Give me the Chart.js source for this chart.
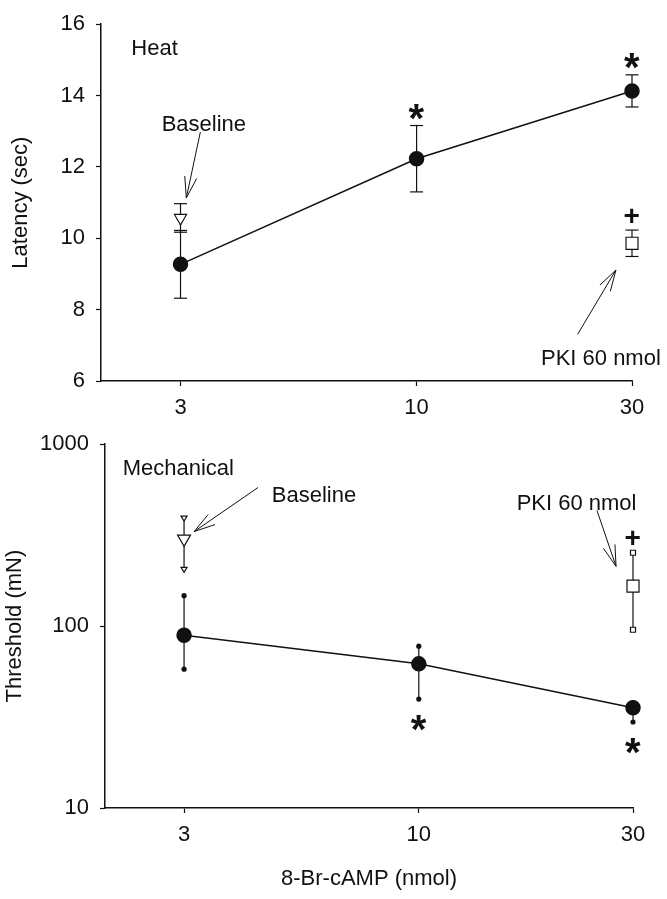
<!DOCTYPE html>
<html>
<head>
<meta charset="utf-8">
<script src="https://cdn.jsdelivr.net/npm/chart.js@4.4.0/dist/chart.umd.min.js"></script>
<style>
  body { margin: 0; background: #fff; }
  .panel { position: absolute; left: 0; }
</style>
</head>
<body>
<div class="panel" style="top:0"><canvas id="heat" width="667" height="420"></canvas></div>
<div class="panel" style="top:420px"><canvas id="mech" width="667" height="479"></canvas></div>
<script>
// doses of 8-Br-cAMP (nmol)
const doses = [3, 10, 30];
const baselineDose = [3];
const pkiDose = [30];
const doseTicks = [3, 10, 30];

// heat latency (sec), mean +/- error
const heatMean = [9.27, 12.23, 14.13];
const heatErr = [0.95, 0.93, 0.45];
const heatMarks = ['', '*', '*'];
const heatBaseline = [10.57];
const heatBaselineErr = [0.4];
const heatPki = [9.86];
const heatPkiErr = [0.37];
const heatPkiMarks = ['+'];
const heatTicks = [6, 8, 10, 12, 14, 16];

// mechanical threshold (mN), mean with low/high bar ends
const mechMean = [89, 62, 35.6];
const mechLow = [58, 39.7, 29.7];
const mechHigh = [147, 77.6, 38];
const mechMarks = ['', '*', '*'];
const mechBaseline = [302];
const mechBaselineLow = [205];
const mechBaselineHigh = [392];
const mechPki = [166];
const mechPkiLow = [95.5];
const mechPkiHigh = [253];
const mechPkiMarks = ['+'];
const mechTicks = [10, 100, 1000];

const INK = '#111';
const FONT = "'Liberation Sans', Arial, sans-serif";

const pts = (xs, ys) => xs.map((x, i) => ({ x: x, y: ys[i] }));

function drawEnd(ctx, style, x, y) {
  ctx.beginPath();
  if (style === 'cap') {
    ctx.moveTo(x - 6.5, y); ctx.lineTo(x + 6.5, y); ctx.stroke();
  } else if (style === 'dot') {
    ctx.arc(x, y, 2.6, 0, Math.PI * 2); ctx.fill();
  } else if (style === 'tri') {
    ctx.moveTo(x - 3, y - 2); ctx.lineTo(x + 3, y - 2); ctx.lineTo(x, y + 3); ctx.closePath();
    ctx.fillStyle = '#fff'; ctx.fill(); ctx.stroke(); ctx.fillStyle = INK;
  } else if (style === 'sq') {
    ctx.rect(x - 2.5, y - 2.5, 5, 5);
    ctx.fillStyle = '#fff'; ctx.fill(); ctx.stroke(); ctx.fillStyle = INK;
  }
}

function drawGlyph(ctx, ch, font, cx, cy) {
  ctx.font = font;
  ctx.textAlign = 'left';
  ctx.textBaseline = 'alphabetic';
  const m = ctx.measureText(ch);
  const x = cx - (m.actualBoundingBoxRight - m.actualBoundingBoxLeft) / 2;
  const y = cy + (m.actualBoundingBoxAscent - m.actualBoundingBoxDescent) / 2;
  ctx.fillText(ch, x, y);
}

const errorBars = {
  id: 'errorBars',
  beforeDatasetsDraw(chart) {
    const { ctx, scales: { x, y } } = chart;
    ctx.save();
    ctx.strokeStyle = INK;
    ctx.fillStyle = INK;
    ctx.lineWidth = 1.2;
    chart.data.datasets.forEach(ds => {
      if (!ds.low) return;
      ds.data.forEach((p, i) => {
        const px = x.getPixelForValue(p.x);
        const top = y.getPixelForValue(ds.high[i]);
        const bot = y.getPixelForValue(ds.low[i]);
        ctx.beginPath();
        ctx.moveTo(px, top);
        ctx.lineTo(px, bot);
        ctx.stroke();
        drawEnd(ctx, ds.errEnd, px, top);
        drawEnd(ctx, ds.errEnd, px, bot);
      });
    });
    ctx.restore();
  },
  afterDatasetsDraw(chart) {
    const { ctx, scales: { x, y } } = chart;
    ctx.save();
    ctx.fillStyle = INK;
    chart.data.datasets.forEach(ds => {
      if (!ds.marks) return;
      ds.data.forEach((p, i) => {
        const ch = ds.marks[i];
        if (!ch) return;
        const px = x.getPixelForValue(p.x);
        const py = ds.markSide === 'below'
          ? y.getPixelForValue(ds.low[i]) + ds.markGap
          : y.getPixelForValue(ds.high[i]) - ds.markGap;
        const font = ch === '*' ? 'bold 40px ' + FONT : 'bold 28px ' + FONT;
        drawGlyph(ctx, ch, font, px, py);
      });
    });
    ctx.restore();
  }
};

const notes = {
  id: 'notes',
  afterDraw(chart, args, opts) {
    const { ctx, scales: { x, y } } = chart;
    ctx.save();
    ctx.fillStyle = INK;
    ctx.strokeStyle = INK;
    ctx.lineWidth = 1;
    ctx.font = '22px ' + FONT;
    ctx.textBaseline = 'middle';
    (opts.texts || []).forEach(t => {
      ctx.textAlign = t.align;
      ctx.fillText(t.text, x.getPixelForValue(t.x), y.getPixelForValue(t.y));
    });
    (opts.arrows || []).forEach(a => {
      const x1 = x.getPixelForValue(a.from[0]), y1 = y.getPixelForValue(a.from[1]);
      const x2 = x.getPixelForValue(a.to[0]), y2 = y.getPixelForValue(a.to[1]);
      const ang = Math.atan2(y1 - y2, x1 - x2);
      ctx.beginPath();
      ctx.moveTo(x1, y1);
      ctx.lineTo(x2, y2);
      [-0.28, 0.28].forEach(d => {
        ctx.moveTo(x2, y2);
        ctx.lineTo(x2 + 22 * Math.cos(ang + d), y2 + 22 * Math.sin(ang + d));
      });
      ctx.stroke();
    });
    ctx.restore();
  }
};

function axisX(height, title) {
  return {
    type: 'logarithmic',
    min: 2,
    max: 30,
    afterBuildTicks: s => { s.ticks = doseTicks.map(v => ({ value: v })); },
    afterFit: s => { s.height = height; },
    ticks: { color: INK, font: { family: FONT, size: 22 }, padding: 9, callback: v => String(v) },
    grid: { drawOnChartArea: false, drawTicks: true, tickLength: 5, tickColor: INK, tickWidth: 1.2 },
    border: { display: true, color: INK, width: 1.5 },
    title: title
      ? { display: true, text: title, color: INK, font: { family: FONT, size: 22 }, padding: { top: 7, bottom: 7 } }
      : { display: false }
  };
}

function axisY(type, min, max, ticks, width, title, pad) {
  return {
    type: type,
    min: min,
    max: max,
    afterBuildTicks: s => { s.ticks = ticks.map(v => ({ value: v })); },
    afterFit: s => { s.width = width; },
    ticks: { color: INK, font: { family: FONT, size: 22 }, padding: 11, callback: v => String(v) },
    grid: { drawOnChartArea: false, drawTicks: true, tickLength: 5, tickColor: INK, tickWidth: 1.2 },
    border: { display: true, color: INK, width: 1.5 },
    title: { display: true, text: title, color: INK, font: { family: FONT, size: 22 }, padding: { top: pad, bottom: pad } }
  };
}

const circleStyle = {
  showLine: true, clip: false, borderColor: INK, borderWidth: 1.5,
  pointRadius: 7, pointBackgroundColor: INK, pointBorderColor: INK
};
const triStyle = {
  showLine: false, clip: false, pointStyle: 'triangle', rotation: 180, pointRadius: 7,
  pointBackgroundColor: '#fff', pointBorderColor: INK, pointBorderWidth: 1.2
};
const sqStyle = {
  showLine: false, clip: false, pointStyle: 'rect', pointRadius: 8.5,
  pointBackgroundColor: '#fff', pointBorderColor: INK, pointBorderWidth: 1.2
};

const common = {
  responsive: false,
  animation: false,
  events: [],
  plugins: { legend: { display: false }, tooltip: { enabled: false } }
};

new Chart(document.getElementById('heat'), {
  type: 'scatter',
  data: {
    datasets: [
      Object.assign({
        label: 'Baseline', data: pts(baselineDose, heatBaseline), errEnd: 'cap',
        low: heatBaseline.map((v, i) => v - heatBaselineErr[i]),
        high: heatBaseline.map((v, i) => v + heatBaselineErr[i])
      }, triStyle),
      Object.assign({
        label: 'PKI 60 nmol', data: pts(pkiDose, heatPki), errEnd: 'cap',
        low: heatPki.map((v, i) => v - heatPkiErr[i]),
        high: heatPki.map((v, i) => v + heatPkiErr[i]),
        marks: heatPkiMarks, markSide: 'above', markGap: 15
      }, sqStyle),
      Object.assign({
        label: '8-Br-cAMP', data: pts(doses, heatMean), errEnd: 'cap',
        low: heatMean.map((v, i) => v - heatErr[i]),
        high: heatMean.map((v, i) => v + heatErr[i]),
        marks: heatMarks, markSide: 'above', markGap: 14
      }, circleStyle)
    ]
  },
  options: Object.assign({}, common, {
    layout: { padding: { left: 0, right: 35, top: 14.5, bottom: 0 } },
    scales: {
      x: axisX(39, null),
      y: axisY('linear', 6, 16, heatTicks, 101, 'Latency (sec)', 8)
    },
    plugins: Object.assign({}, common.plugins, {
      notes: {
        texts: [
          { text: 'Heat', x: 2.334, y: 15.3, align: 'left' },
          { text: 'Baseline', x: 3.38, y: 13.18, align: 'center' },
          { text: 'PKI 60 nmol', x: 25.6, y: 6.63, align: 'center' }
        ],
        arrows: [
          { from: [3.32, 12.98], to: [3.09, 11.13] },
          { from: [22.74, 7.31], to: [27.64, 9.11] }
        ]
      }
    })
  }),
  plugins: [errorBars, notes]
});

new Chart(document.getElementById('mech'), {
  type: 'scatter',
  data: {
    datasets: [
      Object.assign({
        label: 'Baseline', data: pts(baselineDose, mechBaseline), errEnd: 'tri',
        low: mechBaselineLow, high: mechBaselineHigh
      }, triStyle, { pointRadius: 7.5 }),
      Object.assign({
        label: 'PKI 60 nmol', data: pts(pkiDose, mechPki), errEnd: 'sq',
        low: mechPkiLow, high: mechPkiHigh,
        marks: mechPkiMarks, markSide: 'above', markGap: 15
      }, sqStyle),
      Object.assign({
        label: '8-Br-cAMP', data: pts(doses, mechMean), errEnd: 'dot',
        low: mechLow, high: mechHigh,
        marks: mechMarks, markSide: 'below', markGap: 24
      }, circleStyle)
    ]
  },
  options: Object.assign({}, common, {
    layout: { padding: { left: 0, right: 34, top: 24, bottom: 0 } },
    scales: {
      x: axisX(91, '8-Br-cAMP (nmol)'),
      y: axisY('logarithmic', 10, 1000, mechTicks, 105, 'Threshold (mN)', 2)
    },
    plugins: Object.assign({}, common.plugins, {
      notes: {
        texts: [
          { text: 'Mechanical', x: 2.19, y: 735, align: 'left' },
          { text: 'Baseline', x: 5.84, y: 522, align: 'center' },
          { text: 'PKI 60 nmol', x: 22.46, y: 472, align: 'center' }
        ],
        arrows: [
          { from: [4.385, 578], to: [3.16, 331] },
          { from: [24.94, 432], to: [27.5, 213] }
        ]
      }
    })
  }),
  plugins: [errorBars, notes]
});
</script>
</body>
</html>
